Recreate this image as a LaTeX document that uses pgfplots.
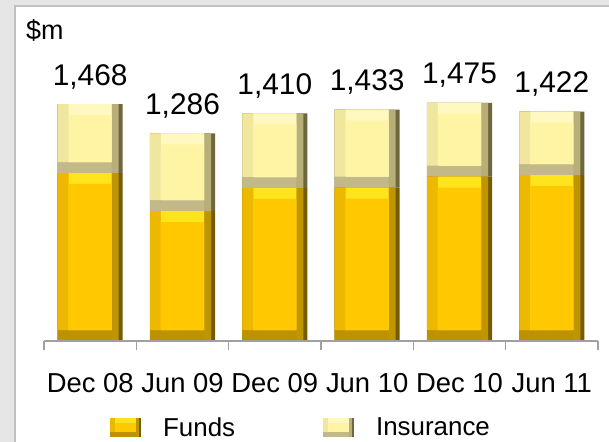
\documentclass[border=0pt]{standalone}
\usepackage{fontspec}
\setmainfont{Liberation Sans}
\usepackage{pgfplots}
\pgfplotsset{compat=1.18}
\usepackage{pgfplotstable}

\definecolor{bggray}{HTML}{E6E6E6}
\definecolor{framegray}{HTML}{C0C0C0}
\definecolor{axisgray}{HTML}{A0A0A0}
% Funds (gold): face, top, left, right (outer/inner), bottom bevels
\definecolor{FundsF}{HTML}{FFC800}
\definecolor{FundsT}{HTML}{FFE31C}
\definecolor{FundsL}{HTML}{EDB800}
\definecolor{FundsR}{HTML}{765C00}
\definecolor{FundsRi}{HTML}{C09600}
\definecolor{FundsB}{HTML}{BC9200}
% Insurance (pale yellow)
\definecolor{InsF}{HTML}{FFF4A4}
\definecolor{InsT}{HTML}{FFF8C0}
\definecolor{InsL}{HTML}{F0E69E}
\definecolor{InsR}{HTML}{6E663C}
\definecolor{InsRi}{HTML}{B8AE78}
\definecolor{InsB}{HTML}{C2B888}

\pgfplotstableread{
x funds ins lab
0 1041 427 1,468
1 805  481 1,286
2 948  462 1,410
3 950  483 1,433
4 1018 457 1,475
5 1028 394 1,422
}\barsdata

% bevel: 11px = 68 y-units = 0.119 x-units
\pgfplotsset{
  frame/.style={at={(44bp,101bp)}, anchor=south west, scale only axis,
    width=554bp, height=258.2bp, xmin=-0.5, xmax=5.5, ymin=0, ymax=1600,
    clip=false},
  layer/.style={frame, ybar stacked},
  hidden/.style={layer, hide axis},
}

\begin{document}
\begin{tikzpicture}
\useasboundingbox (0,0) rectangle (609bp,442bp);
\fill[bggray] (0,0) rectangle (609bp,442bp);
\draw[framegray, line width=2bp, fill=white] (15bp,-5bp) rectangle (620bp,436bp);
\node[anchor=base west, inner sep=0pt, font=\fontsize{27}{32}\selectfont] at (26bp,402bp) {\$m};

% main axis: outer segments (right bevel colour), labels, legend
\begin{axis}[
    layer, bar width=0.704,
    axis x line*=bottom, axis y line=none,
    x axis line style={draw=axisgray, line width=1.5bp},
    xtick={0,...,5},
    xticklabels={Dec 08,Jun 09,Dec 09,Jun 10,Dec 10,Jun 11},
    major tick length=0pt,
    minor xtick={-0.5,0.5,...,5.5},
    minor tick length=9bp, tick align=outside,
    minor tick style={draw=axisgray, line width=1.5bp},
    xticklabel style={font=\fontsize{27.5}{33}\selectfont, inner sep=0pt, anchor=north, yshift=-32bp},
    ytick=\empty,
    legend columns=2,
    legend cell align=left,
    legend style={at={(0.119,-0.335)}, anchor=west, draw=none, fill=none,
        inner sep=0pt, font=\fontsize{26}{31}\selectfont,
        nodes={inner sep=0pt},
        /tikz/every odd column/.append style={column sep=22bp},
        /tikz/every even column/.append style={column sep=88bp}},
]
\addplot[draw=none, fill=FundsR,
    legend image code/.code={
      \fill[FundsR] (0bp,-9.5bp) rectangle (31bp,9.5bp);
      \fill[FundsRi] (0bp,-9.5bp) rectangle (29bp,9.5bp);
      \fill[FundsB] (0bp,-9.5bp) rectangle (26bp,9.5bp);
      \fill[FundsL] (0bp,-4.5bp) rectangle (26bp,9.5bp);
      \fill[FundsT] (5bp,-4.5bp) rectangle (26bp,9.5bp);
      \fill[FundsF] (5bp,-4.5bp) rectangle (26bp,4.5bp);}]
    table[x=x, y=funds] {\barsdata};
\addlegendentry{Funds}
\addplot[draw=none, fill=InsR,
    legend image code/.code={
      \fill[InsR] (0bp,-9.5bp) rectangle (31bp,9.5bp);
      \fill[InsRi] (0bp,-9.5bp) rectangle (29bp,9.5bp);
      \fill[InsB] (0bp,-9.5bp) rectangle (26bp,9.5bp);
      \fill[InsL] (0bp,-4.5bp) rectangle (26bp,9.5bp);
      \fill[InsT] (5bp,-4.5bp) rectangle (26bp,9.5bp);
      \fill[InsF] (5bp,-4.5bp) rectangle (26bp,4.5bp);}]
    table[x=x, y=ins] {\barsdata};
\addlegendentry{Insurance}
\end{axis}

% inner part of the right bevel
\begin{axis}[hidden, bar width=0.661, bar shift=-0.0217]
\addplot[draw=none, fill=FundsRi] table[x=x, y=funds] {\barsdata};
\addplot[draw=none, fill=InsRi] table[x=x, y=ins] {\barsdata};
\end{axis}

% bottom bevel
\begin{axis}[hidden, bar width=0.585, bar shift=-0.0595]
\addplot[draw=none, fill=FundsB] table[x=x, y=funds] {\barsdata};
\addplot[draw=none, fill=InsB] table[x=x, y=ins] {\barsdata};
\end{axis}

% left bevel
\begin{axis}[hidden, bar width=0.585, bar shift=-0.0595]
\addplot[draw=none, fill=none] table[x=x, y expr=68] {\barsdata};
\addplot[draw=none, fill=FundsL] table[x=x, y expr=\thisrow{funds}-68] {\barsdata};
\addplot[draw=none, fill=none] table[x=x, y expr=68] {\barsdata};
\addplot[draw=none, fill=InsL] table[x=x, y expr=\thisrow{ins}-68] {\barsdata};
\end{axis}

% top bevel
\begin{axis}[hidden, bar width=0.466]
\addplot[draw=none, fill=none] table[x=x, y expr=68] {\barsdata};
\addplot[draw=none, fill=FundsT] table[x=x, y expr=\thisrow{funds}-68] {\barsdata};
\addplot[draw=none, fill=none] table[x=x, y expr=68] {\barsdata};
\addplot[draw=none, fill=InsT] table[x=x, y expr=\thisrow{ins}-68] {\barsdata};
\end{axis}

% face
\begin{axis}[hidden, bar width=0.466]
\addplot[draw=none, fill=none] table[x=x, y expr=68] {\barsdata};
\addplot[draw=none, fill=FundsF] table[x=x, y expr=\thisrow{funds}-136] {\barsdata};
\addplot[draw=none, fill=none] table[x=x, y expr=136] {\barsdata};
\addplot[draw=none, fill=InsF] table[x=x, y expr=\thisrow{ins}-136] {\barsdata};
\end{axis}

% axis line redrawn on top of the bars, totals above the bars
\begin{axis}[frame, axis x line*=bottom, axis y line=none,
    x axis line style={draw=axisgray, line width=1.5bp},
    xtick=\empty, ytick=\empty]
\addplot[draw=none, mark=none, nodes near coords, point meta=explicit symbolic,
    nodes near coords align={anchor=base},
    every node near coord/.append style={font=\fontsize{30}{36}\selectfont,
        anchor=base, inner sep=0pt, yshift=19bp, text=black}]
    table[x=x, y expr=\thisrow{funds}+\thisrow{ins}, meta=lab] {\barsdata};
\end{axis}
\end{tikzpicture}
\end{document}
